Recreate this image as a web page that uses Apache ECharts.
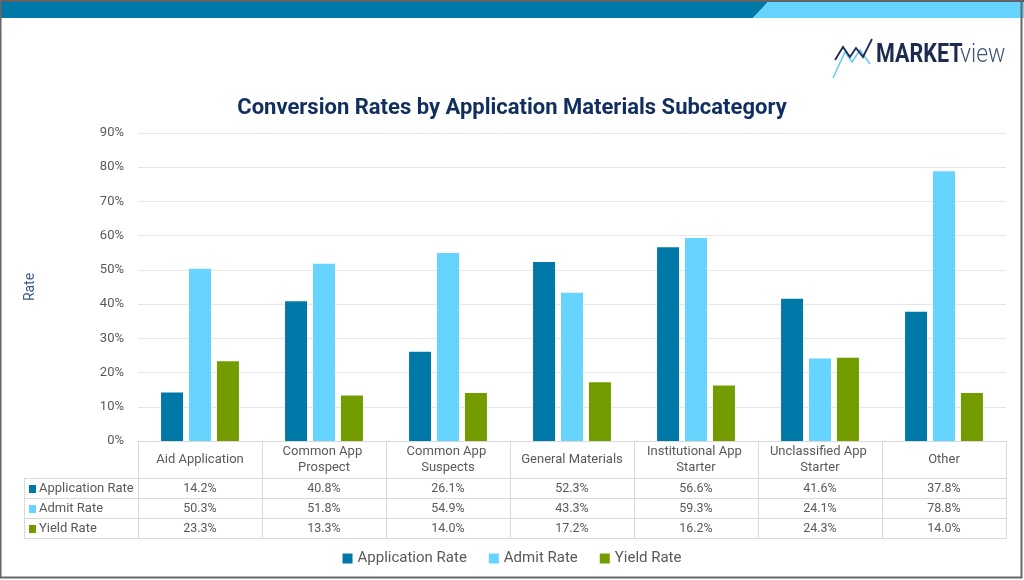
<!DOCTYPE html>
<html>
<head>
<meta charset="utf-8">
<script src="https://cdn.jsdelivr.net/npm/echarts@6/dist/echarts.min.js"></script>
<style>
html,body{margin:0;padding:0;background:#fff;}
#chart{width:1024px;height:580px;}
</style>
</head>
<body>
<div id="chart"></div>
<script>
// ---- data ----
const categories = ['Aid Application', 'Common App Prospect', 'Common App Suspects', 'General Materials', 'Institutional App Starter', 'Unclassified App Starter', 'Other'];
const seriesNames = ['Application Rate', 'Admit Rate', 'Yield Rate'];
const applicationRate = [14.2, 40.8, 26.1, 52.3, 56.6, 41.6, 37.8];
const admitRate = [50.3, 51.8, 54.9, 43.3, 59.3, 24.1, 78.8];
const yieldRate = [23.3, 13.3, 14.0, 17.2, 16.2, 24.3, 14.0];
const yTicks = [0, 10, 20, 30, 40, 50, 60, 70, 80, 90];

const seriesData = [applicationRate, admitRate, yieldRate];
const colors = ['#0078A8', '#66D4FF', '#739C00'];
const FONT = 'Roboto, "Noto Sans", sans-serif';
const TXT = '#595959';
const LINE = '#D9D9D9';

const chart = echarts.init(document.getElementById('chart'), null, {renderer: 'canvas'});

// grid geometry (layout)
const G = {left: 138, right: 18, top: 133, bottom: 139};
const axisY = 580 - G.bottom;     // 441
const rowOffsets = [37, 57, 77];   // table row tops relative to axis
const tableBottom = 97;
const leftColX = 24;

const xAxes = [{
  type: 'category', data: categories, gridIndex: 0, position: 'bottom',
  axisLine: {show: true, lineStyle: {color: LINE, width: 1}},
  axisTick: {show: true, interval: 0, length: tableBottom, lineStyle: {color: LINE, width: 1}},
  axisLabel: {interval: 0, color: TXT, fontFamily: FONT, fontSize: 13, margin: 19,
    verticalAlign: 'middle', lineHeight: 16, width: 114, overflow: 'break', align: 'center'},
  splitLine: {show: false}
}];
seriesData.forEach((arr, k) => {
  xAxes.push({
    type: 'category', data: categories, gridIndex: 0, position: 'bottom', offset: rowOffsets[k],
    axisLine: {show: true, lineStyle: {color: LINE, width: 1}},
    axisTick: {show: false},
    axisLabel: {interval: 0, color: TXT, fontFamily: FONT, fontSize: 12.5, margin: 11, verticalAlign: 'middle',
      formatter: (v, i) => arr[i].toFixed(1) + '%'},
    splitLine: {show: false}
  });
});
xAxes.push({
  type: 'category', data: categories, gridIndex: 0, position: 'bottom', offset: tableBottom,
  axisLine: {show: true, lineStyle: {color: LINE, width: 1}},
  axisTick: {show: false}, axisLabel: {show: false}, splitLine: {show: false}
});

// left header column of data table
const leftGraphics = [];
[rowOffsets[0], rowOffsets[1], rowOffsets[2], tableBottom].forEach(o => {
  leftGraphics.push({type: 'line', shape: {x1: leftColX, y1: axisY + o + 0.5, x2: G.left, y2: axisY + o + 0.5},
    style: {stroke: LINE, lineWidth: 1}, silent: true});
});
leftGraphics.push({type: 'line', shape: {x1: leftColX + 0.5, y1: axisY + rowOffsets[0], x2: leftColX + 0.5, y2: axisY + tableBottom},
  style: {stroke: LINE, lineWidth: 1}, silent: true});
seriesNames.forEach((n, k) => {
  const cy = axisY + rowOffsets[k] + 11;
  leftGraphics.push({type: 'rect', shape: {x: 29, y: cy - 4, width: 7, height: 8}, style: {fill: colors[k]}, silent: true});
  leftGraphics.push({type: 'text', x: 39, y: cy, style: {text: n, fill: TXT, font: '13px ' + FONT, verticalAlign: 'middle', align: 'left'}, silent: true});
});

const option = {
  backgroundColor: '#fff',
  animation: false,
  title: {
    text: 'Conversion Rates by Application Materials Subcategory',
    left: 'center', top: 92,
    textStyle: {color: '#102E5E', fontFamily: FONT, fontWeight: 'bold', fontSize: 22}
  },
  legend: {
    data: seriesNames, bottom: 9, left: 'center',
    icon: 'rect', itemWidth: 10, itemHeight: 10, itemGap: 22,
    textStyle: {color: TXT, fontFamily: FONT, fontSize: 15}
  },
  grid: {left: G.left, right: G.right, top: G.top, bottom: G.bottom, containLabel: false},
  xAxis: xAxes,
  yAxis: {
    type: 'value', min: yTicks[0], max: yTicks[yTicks.length - 1], interval: 10,
    name: 'Rate', nameLocation: 'middle', nameRotate: 90, nameGap: 101,
    nameTextStyle: {color: '#3A5A8C', fontFamily: FONT, fontSize: 14},
    axisLine: {show: false}, axisTick: {show: false},
    axisLabel: {formatter: '{value}%', color: TXT, fontFamily: FONT, fontSize: 13, margin: 14},
    splitLine: {show: true, lineStyle: {color: '#E6E6E6', width: 1}}
  },
  series: seriesData.map((arr, k) => ({
    name: seriesNames[k], type: 'bar', xAxisIndex: 0, data: arr,
    barWidth: 22, barGap: '27%',
    itemStyle: {color: colors[k]}
  })),
  graphic: [
    // header bar
    {type: 'rect', shape: {x: 0, y: 0, width: 1024, height: 2}, style: {fill: '#4A5966'}, silent: true},
    {type: 'polygon', shape: {points: [[0, 2], [768, 2], [753, 18], [0, 18]]}, style: {fill: '#0078A8'}, silent: true},
    {type: 'polygon', shape: {points: [[768, 2], [1024, 2], [1024, 18], [753, 18]]}, style: {fill: '#66D4FF'}, silent: true},
    // frame
    {type: 'rect', shape: {x: 0.5, y: 0.5, width: 1021, height: 577}, style: {fill: null, stroke: '#666', lineWidth: 2}, silent: true},
    // logo
    {type: 'polyline', shape: {points: [[833, 78], [845, 52], [852, 62], [860, 50], [870, 64]]}, style: {stroke: '#5CC8F5', lineWidth: 1.4, fill: null}, silent: true},
    {type: 'polyline', shape: {points: [[835, 60], [843, 47], [850, 57], [856, 48], [863, 57], [872, 39]]}, style: {stroke: '#1C2B4F', lineWidth: 1.8, fill: null}, silent: true},
    {type: 'text', x: 876, y: 56, scaleX: 0.86, style: {text: 'MARKET', fill: '#1C2B4F', font: 'bold 25px ' + FONT, verticalAlign: 'middle'}, silent: true},
    {type: 'text', x: 960, y: 56, scaleX: 0.92, style: {text: 'view', fill: '#3F5578', font: '300 25px ' + FONT, verticalAlign: 'middle'}, silent: true}
  ].concat(leftGraphics)
};
chart.setOption(option);
</script>
</body>
</html>
